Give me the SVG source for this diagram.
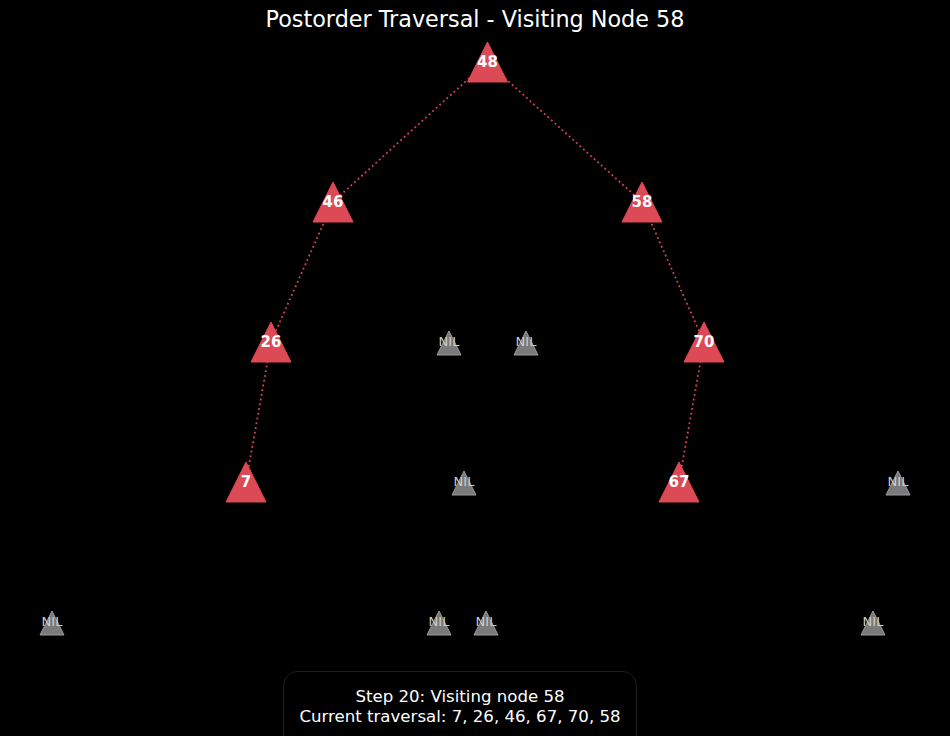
<svg xmlns="http://www.w3.org/2000/svg" width="950" height="736" viewBox="0 0 950 736">
<style>
.edge{stroke:#d94452;stroke-width:1.8;stroke-dasharray:1.8,3;fill:none}
.node path{fill:#dc4a55;stroke:#dc4a55;stroke-width:1}
.node text{font-family:"DejaVu Sans",sans-serif;font-size:15px;font-weight:bold;fill:#ffffff;text-anchor:middle;dominant-baseline:central}
.nil path{fill:#7a7a7a;stroke:#9a9a9a;stroke-width:1}
.nil text{font-family:"DejaVu Sans",sans-serif;font-size:13px;fill:#cccccc;text-anchor:middle;dominant-baseline:central}
.title{font-family:"DejaVu Sans",sans-serif;font-size:22.3px;fill:#ffffff;text-anchor:middle}
.info{font-family:"DejaVu Sans",sans-serif;font-size:16.6px;fill:#ffffff;text-anchor:middle}
</style>
<rect width="950" height="736" fill="#000000"/>
<text class="title" x="475" y="26.5">Postorder Traversal - Visiting Node 58</text>
<g id="edges">
<line class="edge" x1="487" y1="62" x2="333" y2="202"/>
<line class="edge" x1="487" y1="62" x2="642" y2="202"/>
<line class="edge" x1="333" y1="202" x2="271" y2="342"/>
<line class="edge" x1="642" y1="202" x2="704" y2="342"/>
<line class="edge" x1="271" y1="342" x2="246" y2="482"/>
<line class="edge" x1="704" y1="342" x2="679" y2="482"/>
</g>
<g id="n48" class="node" transform="translate(487.5,62)"><path d="M0,-20 L20,20 L-20,20 Z"/><text x="0" y="0">48</text></g>
<g id="n46" class="node" transform="translate(333,202)"><path d="M0,-20 L20,20 L-20,20 Z"/><text x="0" y="0">46</text></g>
<g id="n58" class="node" transform="translate(642,202)"><path d="M0,-20 L20,20 L-20,20 Z"/><text x="0" y="0">58</text></g>
<g id="n26" class="node" transform="translate(271,342)"><path d="M0,-20 L20,20 L-20,20 Z"/><text x="0" y="0">26</text></g>
<g id="n70" class="node" transform="translate(704,342)"><path d="M0,-20 L20,20 L-20,20 Z"/><text x="0" y="0">70</text></g>
<g id="n7" class="node" transform="translate(246,482)"><path d="M0,-20 L20,20 L-20,20 Z"/><text x="0" y="0">7</text></g>
<g id="n67" class="node" transform="translate(679,482)"><path d="M0,-20 L20,20 L-20,20 Z"/><text x="0" y="0">67</text></g>
<g id="nil1" class="nil" transform="translate(449,343)"><path d="M0,-12 L12,12 L-12,12 Z"/><text x="0" y="-2">NIL</text></g>
<g id="nil2" class="nil" transform="translate(526,343)"><path d="M0,-12 L12,12 L-12,12 Z"/><text x="0" y="-2">NIL</text></g>
<g id="nil3" class="nil" transform="translate(464,483)"><path d="M0,-12 L12,12 L-12,12 Z"/><text x="0" y="-2">NIL</text></g>
<g id="nil4" class="nil" transform="translate(898,483)"><path d="M0,-12 L12,12 L-12,12 Z"/><text x="0" y="-2">NIL</text></g>
<g id="nil5" class="nil" transform="translate(52,623)"><path d="M0,-12 L12,12 L-12,12 Z"/><text x="0" y="-2">NIL</text></g>
<g id="nil6" class="nil" transform="translate(439,623)"><path d="M0,-12 L12,12 L-12,12 Z"/><text x="0" y="-2">NIL</text></g>
<g id="nil7" class="nil" transform="translate(486,623)"><path d="M0,-12 L12,12 L-12,12 Z"/><text x="0" y="-2">NIL</text></g>
<g id="nil8" class="nil" transform="translate(873,623)"><path d="M0,-12 L12,12 L-12,12 Z"/><text x="0" y="-2">NIL</text></g>
<g id="info">
<rect x="283.5" y="671.5" width="353" height="80" rx="14" fill="#000000" stroke="#1e1e1e" stroke-width="1"/>
<text class="info" x="460" y="702">Step 20: Visiting node 58</text>
<text class="info" x="460" y="722">Current traversal: 7, 26, 46, 67, 70, 58</text>
</g>
</svg>
